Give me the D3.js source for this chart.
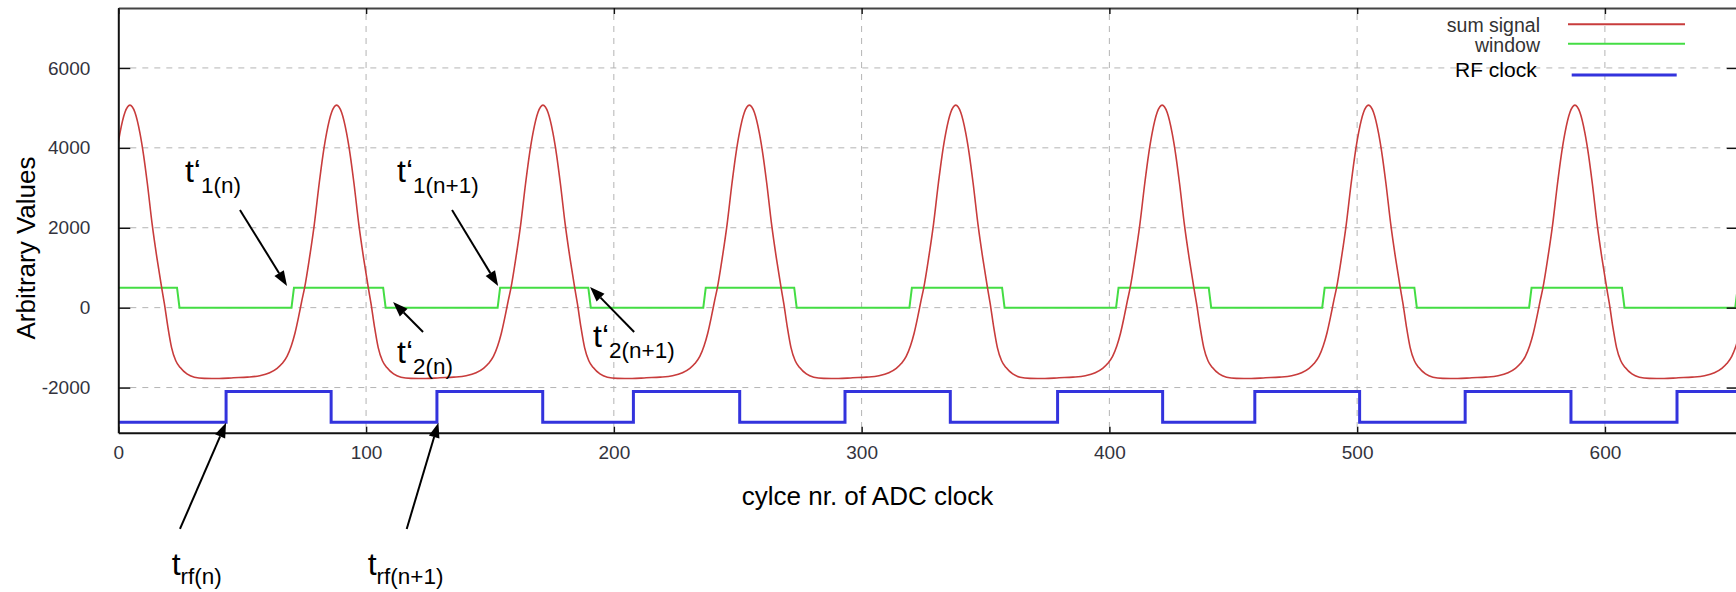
<!DOCTYPE html>
<html>
<head>
<meta charset="utf-8">
<script src="https://cdn.jsdelivr.net/npm/d3@7"></script>
<style>
  html, body { margin: 0; padding: 0; background: #fff; }
  svg { display: block; font-family: "Liberation Sans", Arial, sans-serif; }
</style>
</head>
<body>
<svg id="chart" width="1736" height="592"></svg>
<script>
// Axis ticks and ranges
const xTicks = [0, 100, 200, 300, 400, 500, 600];
const yTicks = [-2000, 0, 2000, 4000, 6000];
const xDomain = [0, 654];
const yDomain = [-3130, 7500];

// Sum signal: peak positions (ADC cycles) and the pulse shape read around one peak
const peakCycles = [4.7, 88.1, 171.4, 254.7, 338.0, 421.3, 504.6, 587.9, 671.2];
const pulseShape = [
  [-41.6, -1755], [-36, -1740], [-31, -1705], [-27, -1630], [-24, -1520],
  [-22, -1400], [-20, -1220], [-18.3, -960], [-16.8, -640], [-15.3, -220],
  [-14, 180], [-12.9, 500], [-11, 1220], [-9, 2080], [-7, 3120],
  [-5.5, 3820], [-4, 4380], [-2, 4890], [0, 5070], [2, 4890],
  [4, 4380], [5.5, 3820], [7, 3120], [9, 2070], [11, 1200],
  [12.8, 500], [13.9, 100], [15.3, -480], [16.8, -1000], [18.5, -1330],
  [20.3, -1500], [23, -1660], [26, -1740], [30, -1770], [36, -1775]
];

// Window: low/high levels and edge positions
const windowLevels = [0, 500];
const windowFalls = [24.2, 107.4, 190.2, 273.3, 357.2, 440.6, 523.6, 607.4];
const windowRises = [70.4, 153.6, 236.6, 319.8, 403.2, 486.4, 569.9, 653.1];

// RF clock: low/high levels and edge positions
const rfLevels = [-2870, -2100];
const rfRises = [43.5, 128.6, 207.9, 293.3, 379.1, 458.7, 543.6, 629.1];
const rfFalls = [85.9, 171.3, 250.8, 335.8, 421.5, 501.0, 586.3];

// Legend entries
const legendLabels = ['sum signal', 'window', 'RF clock'];

// Annotations (data coordinates): label anchor, arrow tail and tip
const annotations = [
  { main: 't\u2018', sub: '1(n)',   lx: 26.9,  ly: 3146,  tail: [49.1, 2446],   tip: [68.1, 543] },
  { main: 't\u2018', sub: '1(n+1)', lx: 112.5, ly: 3146,  tail: [134.7, 2446],  tip: [153.3, 543] },
  { main: 't\u2018', sub: '2(n)',   lx: 112.5, ly: -1384, tail: [123.0, -608],  tip: [110.9, 143] },
  { main: 't\u2018', sub: '2(n+1)', lx: 191.6, ly: -984,  tail: [208.2, -608],  tip: [190.4, 518] },
  { main: 't',      sub: 'rf(n)',   lx: 21.55, ly: -6692, tail: [24.9, -5539],  tip: [43.5, -2879] },
  { main: 't',      sub: 'rf(n+1)', lx: 100.66, ly: -6692, tail: [116.4, -5539], tip: [129.2, -2879] }
];

const colors = { sum: '#c83c3c', win: '#44dd44', rf: '#3333dd' };

const svg = d3.select('#chart');
const plot = { left: 118.3, right: 1738.7, top: 8, bottom: 432.7 };

const x = d3.scaleLinear().domain(xDomain).range([plot.left, plot.right]);
const y = d3.scaleLinear().domain(yDomain).range([plot.bottom, plot.top]);

// plain labels with ASCII hyphen, like gnuplot
const plainNum = d => String(d);

svg.append('rect').attr('width', 1736).attr('height', 592).attr('fill', '#fff');

svg.append('clipPath').attr('id', 'clip')
  .append('rect')
  .attr('x', plot.left).attr('y', plot.top)
  .attr('width', plot.right - plot.left).attr('height', plot.bottom - plot.top);

// Grid lines
const grid = svg.append('g').attr('class', 'grid');
grid.selectAll('line.h')
  .data(yTicks)
  .enter().append('line')
  .attr('x1', plot.left + 12).attr('x2', plot.right - 12)
  .attr('y1', d => y(d)).attr('y2', d => y(d));
grid.selectAll('line.v')
  .data(xTicks.filter(d => d > 0))
  .enter().append('line')
  .attr('x1', d => x(d)).attr('x2', d => x(d))
  .attr('y1', plot.top + 6).attr('y2', plot.bottom - 6);
grid.selectAll('line')
  .attr('stroke', '#b4b4b4')
  .attr('stroke-width', 1)
  .attr('stroke-dasharray', '6,6');

// Build series
const sumData = [];
peakCycles.forEach(p => {
  pulseShape.forEach(([o, v]) => sumData.push([p + o, v]));
});
sumData.sort((a, b) => a[0] - b[0]);

const winEdges = windowFalls.map(c => ({ at: c, level: windowLevels[0] }))
  .concat(windowRises.map(c => ({ at: c, level: windowLevels[1] })))
  .sort((a, b) => a.at - b.at);
const winData = [[xDomain[0] - 2, windowLevels[1]]];
let prev = windowLevels[1];
winEdges.forEach(e => {
  winData.push([e.at - 0.5, prev]);
  winData.push([e.at + 0.5, e.level]);
  prev = e.level;
});
winData.push([xDomain[1] + 2, prev]);

const rfEdges = rfRises.map(c => ({ at: c, level: rfLevels[1] }))
  .concat(rfFalls.map(c => ({ at: c, level: rfLevels[0] })))
  .sort((a, b) => a.at - b.at);
const rfData = [[xDomain[0] - 2, rfLevels[0]]];
rfEdges.forEach(e => rfData.push([e.at, e.level]));
rfData.push([xDomain[1] + 2, rfEdges[rfEdges.length - 1].level]);

const series = svg.append('g').attr('clip-path', 'url(#clip)');

series.append('path')
  .datum(winData)
  .attr('fill', 'none')
  .attr('stroke', colors.win)
  .attr('stroke-width', 2)
  .attr('d', d3.line().x(d => x(d[0])).y(d => y(d[1])));

series.append('path')
  .datum(sumData)
  .attr('fill', 'none')
  .attr('stroke', colors.sum)
  .attr('stroke-width', 1.6)
  .attr('d', d3.line().curve(d3.curveMonotoneX).x(d => x(d[0])).y(d => y(d[1])));

series.append('path')
  .datum(rfData)
  .attr('fill', 'none')
  .attr('stroke', colors.rf)
  .attr('stroke-width', 3)
  .attr('d', d3.line().curve(d3.curveStepAfter).x(d => x(d[0])).y(d => y(d[1])));

// Axes
const axLeft = svg.append('g')
  .attr('transform', `translate(${plot.left},0)`)
  .call(d3.axisLeft(y).tickValues(yTicks).tickFormat(plainNum)
    .tickSize(-12).tickSizeOuter(0).tickPadding(28));
const axRight = svg.append('g')
  .attr('transform', `translate(${plot.right},0)`)
  .call(d3.axisRight(y).tickValues(yTicks).tickSize(-12).tickSizeOuter(0).tickFormat(''));
const axBottom = svg.append('g')
  .attr('transform', `translate(0,${plot.bottom})`)
  .call(d3.axisBottom(x).tickValues(xTicks).tickFormat(plainNum)
    .tickSize(-6).tickSizeOuter(0).tickPadding(13));
const axTop = svg.append('g')
  .attr('transform', `translate(0,${plot.top})`)
  .call(d3.axisTop(x).tickValues(xTicks).tickSize(-6).tickSizeOuter(0).tickFormat(''));

[axLeft, axRight, axBottom, axTop].forEach(g => {
  g.select('.domain').attr('stroke', '#111').attr('stroke-width', 2);
  g.selectAll('.tick line').attr('stroke', '#111').attr('stroke-width', 1.5);
  g.selectAll('.tick text')
    .attr('font-size', 19)
    .attr('font-family', '"Liberation Sans", Arial, sans-serif')
    .attr('fill', '#33333d');
});
axTop.select('.domain').attr('stroke', '#444');

// Axis titles
svg.append('text')
  .attr('x', 867.5).attr('y', 505)
  .attr('text-anchor', 'middle')
  .attr('font-size', 26)
  .attr('fill', '#000')
  .text('cylce nr. of ADC clock');

svg.append('text')
  .attr('transform', 'translate(35,248) rotate(-90)')
  .attr('text-anchor', 'middle')
  .attr('font-size', 26)
  .attr('fill', '#000')
  .text('Arbitrary Values');

// Legend
const legendRows = [
  { text: legendLabels[0], color: colors.sum, width: 2, tx: 1540, ty: 31.7, size: 19.5, fill: '#333', x1: 1568, x2: 1685, ly: 24.3 },
  { text: legendLabels[1], color: colors.win, width: 2, tx: 1540, ty: 51.7, size: 19.5, fill: '#333', x1: 1568, x2: 1685, ly: 43.7 },
  { text: legendLabels[2], color: colors.rf, width: 3, tx: 1536.7, ty: 77.3, size: 21, fill: '#000', x1: 1571.7, x2: 1676.7, ly: 75 }
];
const legend = svg.append('g').attr('class', 'legend');
legendRows.forEach(r => {
  legend.append('text')
    .attr('x', r.tx).attr('y', r.ty)
    .attr('text-anchor', 'end')
    .attr('font-size', r.size)
    .attr('fill', r.fill)
    .text(r.text);
  legend.append('line')
    .attr('x1', r.x1).attr('x2', r.x2)
    .attr('y1', r.ly).attr('y2', r.ly)
    .attr('stroke', r.color)
    .attr('stroke-width', r.width);
});

// Annotations
const notes = svg.append('g').attr('class', 'annotations');
annotations.forEach(a => {
  const t = notes.append('text')
    .attr('x', x(a.lx)).attr('y', y(a.ly))
    .attr('fill', '#000');
  t.append('tspan').attr('font-size', 32).text(a.main);
  t.append('tspan').attr('font-size', 22.5).attr('dy', a.main === 't' ? 9 : 11).text(a.sub);

  const x1 = x(a.tail[0]), y1 = y(a.tail[1]);
  const x2 = x(a.tip[0]), y2 = y(a.tip[1]);
  const ang = Math.atan2(y2 - y1, x2 - x1);
  const headLen = 15, headHalf = 5.5;
  const bx = x2 - headLen * Math.cos(ang), by = y2 - headLen * Math.sin(ang);
  notes.append('line')
    .attr('x1', x1).attr('y1', y1)
    .attr('x2', bx).attr('y2', by)
    .attr('stroke', '#000')
    .attr('stroke-width', 2);
  const px = -Math.sin(ang) * headHalf, py = Math.cos(ang) * headHalf;
  notes.append('path')
    .attr('d', `M${x2},${y2}L${bx + px},${by + py}L${bx - px},${by - py}Z`)
    .attr('fill', '#000');
});
</script>
</body>
</html>
